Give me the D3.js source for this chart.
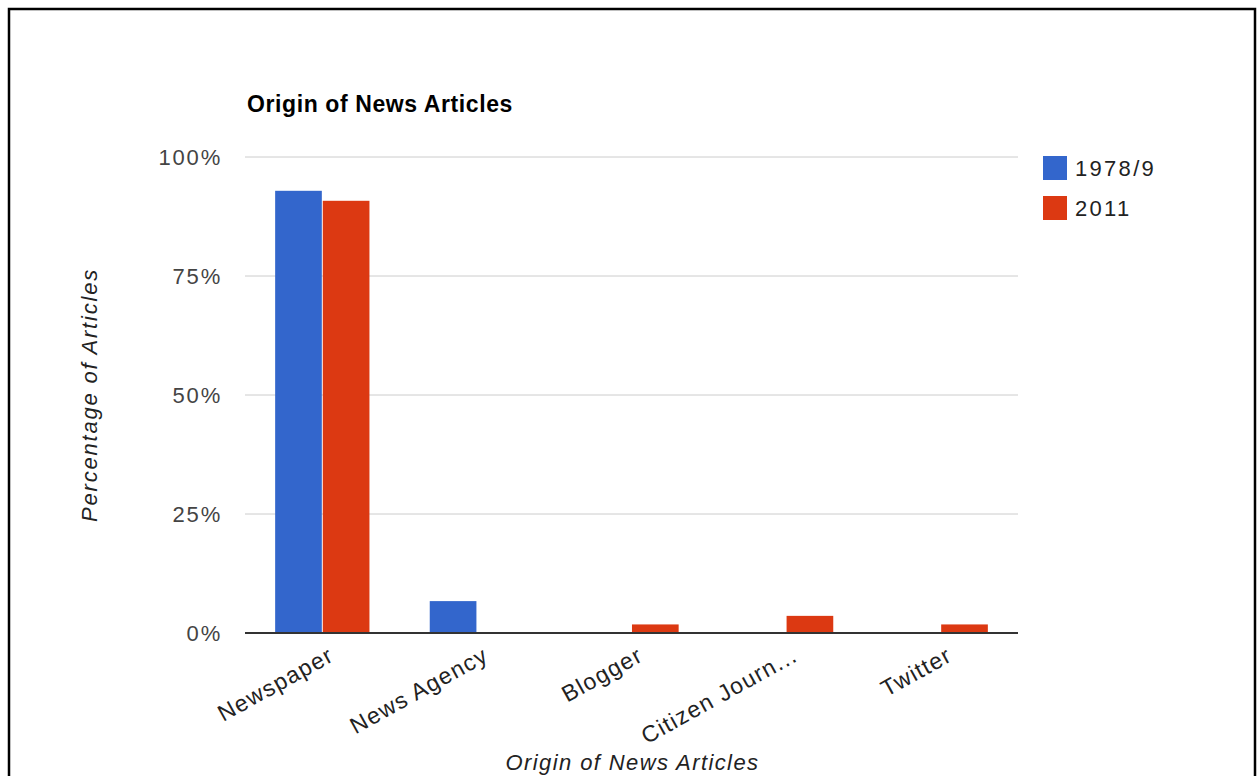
<!DOCTYPE html>
<html>
<head>
<meta charset="utf-8">
<script src="https://cdn.jsdelivr.net/npm/d3@7"></script>
<style>
  html, body { margin: 0; padding: 0; background: #fff; }
  svg { display: block; font-family: "Liberation Sans", Arial, sans-serif; }
</style>
</head>
<body>
<svg id="chart" width="1259" height="776"></svg>
<script>
const categories = ["Newspaper", "News Agency", "Blogger", "Citizen Journ...", "Twitter"];
const categoryLabels = ["Newspaper", "News Agency", "Blogger", "Citizen Journ...", "Twitter"];
const seriesNames = ["1978/9", "2011"];
const values1978 = [92.9, 6.7, 0, 0, 0];
const values2011 = [90.8, 0, 1.8, 3.6, 1.8];
const yTicks = [0, 25, 50, 75, 100];
const yTickLabels = ["0%", "25%", "50%", "75%", "100%"];
const colors = ["#3366cc", "#dc3912"];

const FONT = "'Liberation Sans', Arial, sans-serif";
const svg = d3.select("#chart");
const margin = { left: 245, right: 1018, top: 157, bottom: 633 };

// frame
svg.append("path")
  .attr("d", `M9,790 L9,9 L1255,9 L1255,790`)
  .attr("fill", "none").attr("stroke", "#000").attr("stroke-width", 2.5);

const x = d3.scaleBand().domain(categories).range([margin.left, margin.right]).paddingInner(0.39).paddingOuter(0.195);
const xs = d3.scaleBand().domain(seriesNames).range([0, x.bandwidth()]).paddingInner(0.02);
const y = d3.scaleLinear().domain([0, 100]).range([margin.bottom, margin.top]);

// gridlines
svg.append("g").selectAll("line").data(yTicks.filter(t => t > 0)).join("line")
  .attr("x1", margin.left).attr("x2", margin.right)
  .attr("y1", d => y(d)).attr("y2", d => y(d))
  .attr("stroke", "#cccccc").attr("stroke-width", 1);

// y axis labels
const yAxis = d3.axisLeft(y).tickValues(yTicks).tickFormat((d, i) => yTickLabels[i]).tickSize(0).tickPadding(0);
const yg = svg.append("g").attr("transform", `translate(222,0)`).call(yAxis);
yg.select(".domain").remove();
yg.selectAll("text").attr("font-size", 22).attr("fill", "#444").attr("letter-spacing", 1.8)
  .attr("font-family", FONT).attr("dy", "0.35em");

// bars
const series = [values1978, values2011];
const groups = svg.append("g");
series.forEach((vals, si) => {
  groups.append("g").selectAll("rect").data(categories.map((c, i) => ({ c, v: vals[i] })).filter(d => d.v > 0)).join("rect")
    .attr("x", d => x(d.c) + xs(seriesNames[si]))
    .attr("width", xs.bandwidth())
    .attr("y", d => y(d.v))
    .attr("height", d => y(0) - y(d.v))
    .attr("fill", colors[si]);
});

// baseline
svg.append("line").attr("x1", margin.left).attr("x2", margin.right)
  .attr("y1", y(0)).attr("y2", y(0)).attr("stroke", "#333").attr("stroke-width", 2);

// x labels
const xAxis = d3.axisBottom(x).tickFormat((d, i) => categoryLabels[i]).tickSize(0).tickPadding(0);
const xg = svg.append("g").attr("transform", `translate(0,${margin.bottom})`).call(xAxis);
xg.select(".domain").remove();
xg.selectAll("text")
  .attr("font-size", 23).attr("fill", "#222").attr("letter-spacing", 1.3)
  .attr("font-family", FONT)
  .attr("text-anchor", "end")
  .attr("dy", null).attr("y", null)
  .attr("transform", "translate(13,27) rotate(-29)");

// title
svg.append("text").attr("x", 247).attr("y", 112).text("Origin of News Articles")
  .attr("font-size", 23).attr("font-weight", "bold").attr("letter-spacing", 0.6).attr("fill", "#000");

// axis titles
svg.append("text").attr("transform", `translate(97,${(margin.top + margin.bottom) / 2}) rotate(-90)`)
  .attr("text-anchor", "middle").attr("font-size", 22).attr("font-style", "italic").attr("letter-spacing", 1.8)
  .attr("fill", "#222").text("Percentage of Articles");
svg.append("text").attr("x", (margin.left + margin.right) / 2 + 1).attr("y", 770)
  .attr("text-anchor", "middle").attr("font-size", 22).attr("font-style", "italic").attr("letter-spacing", 1.4)
  .attr("fill", "#222").text("Origin of News Articles");

// legend
const lg = svg.append("g").selectAll("g").data(seriesNames).join("g")
  .attr("transform", (d, i) => `translate(1043,${156 + i * 40})`);
lg.append("rect").attr("width", 24).attr("height", 24).attr("fill", (d, i) => colors[i]);
lg.append("text").attr("x", 32).attr("y", 12).attr("dy", "0.35em").attr("font-size", 22)
  .attr("letter-spacing", 2.3).attr("fill", "#222").text(d => d);
</script>
</body>
</html>
